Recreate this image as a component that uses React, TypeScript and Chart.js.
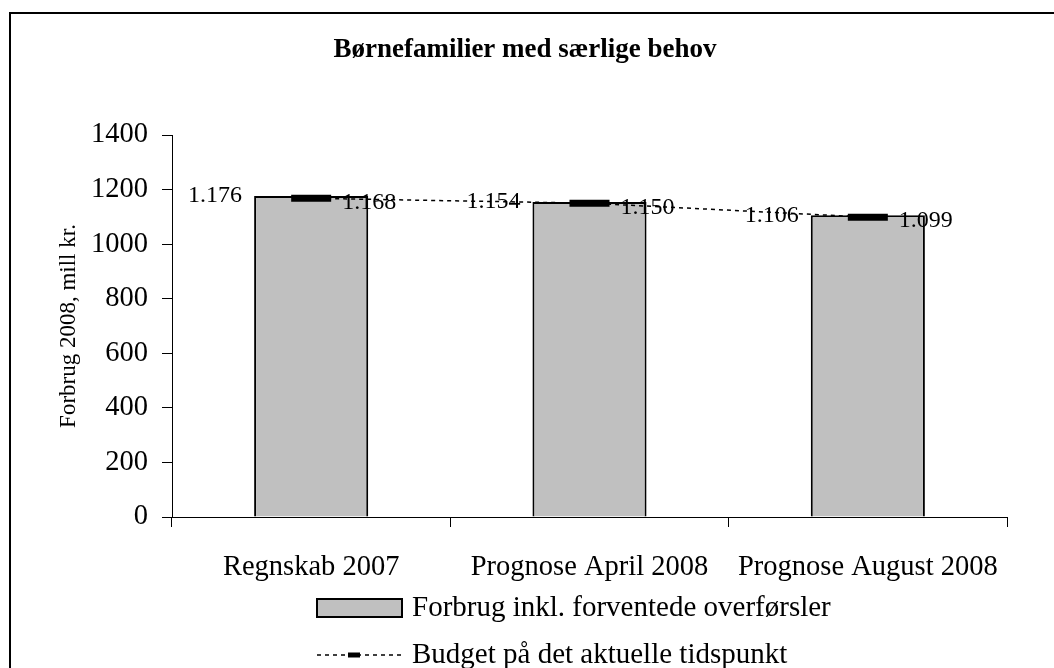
import React, { useEffect, useRef } from "react";
import { Chart, registerables } from "chart.js";

Chart.register(...registerables);

const chartTitle = "Børnefamilier med særlige behov";
const yAxisTitle = "Forbrug 2008, mill kr.";
const categories = ["Regnskab 2007", "Prognose April 2008", "Prognose August 2008"];
const forbrugValues = [1176, 1154, 1106];
const budgetValues = [1168, 1150, 1099];
const seriesNames = ["Forbrug inkl. forventede overførsler", "Budget på det aktuelle tidspunkt"];
const yMin = 0;
const yMax = 1400;
const yStep = 200;

const FONT = '"Liberation Serif", "Times New Roman", serif';
const BAR_FILL = "#C0C0C0";

const fmt = (v: number) => {
  const t = Math.floor(v / 1000);
  const r = String(Math.round(v % 1000)).padStart(3, "0");
  return t > 0 ? `${t}.${r}` : String(v);
};

const framePlugin = {
  id: "frame",
  beforeDraw(chart: any) {
    const ctx = chart.ctx;
    ctx.save();
    ctx.fillStyle = "#ffffff";
    ctx.fillRect(0, 0, chart.width, chart.height);
    ctx.fillStyle = "#000000";
    ctx.fillRect(9, 12, 2, chart.height - 12);
    ctx.fillRect(9, 12, chart.width - 9, 2);
    ctx.restore();
  },
};

const titlePlugin = {
  id: "customTitle",
  afterDraw(chart: any) {
    const ctx = chart.ctx;
    ctx.save();
    ctx.font = `bold 27px ${FONT}`;
    ctx.fillStyle = "#000";
    ctx.textAlign = "center";
    ctx.textBaseline = "middle";
    ctx.fillText(chartTitle, 525, 50);
    ctx.restore();
  },
};

const labelPlugin = {
  id: "valueLabels",
  afterDatasetsDraw(chart: any) {
    const ctx = chart.ctx;
    ctx.save();
    ctx.font = `24px ${FONT}`;
    ctx.fillStyle = "#000";
    ctx.textBaseline = "middle";
    const barMeta = chart.getDatasetMeta(1);
    barMeta.data.forEach((el: any, i: number) => {
      ctx.textAlign = "right";
      ctx.fillText(fmt(forbrugValues[i]), el.x - el.width / 2 - 12, el.y);
    });
    const lineMeta = chart.getDatasetMeta(0);
    lineMeta.data.forEach((el: any, i: number) => {
      ctx.textAlign = "left";
      ctx.fillText(fmt(budgetValues[i]), el.x + 20 + 11, el.y + 4);
    });
    ctx.restore();
  },
};

const legendPlugin = {
  id: "customLegend",
  afterDraw(chart: any) {
    const ctx = chart.ctx;
    const x0 = chart.chartArea.left + 145;
    const y1 = 608;
    const y2 = 655;
    ctx.save();
    ctx.fillStyle = BAR_FILL;
    ctx.fillRect(x0, y1 - 9, 85, 18);
    ctx.strokeStyle = "#000";
    ctx.lineWidth = 2;
    ctx.strokeRect(x0, y1 - 9, 85, 18);
    ctx.setLineDash([4, 4]);
    ctx.lineWidth = 1.5;
    ctx.beginPath();
    ctx.moveTo(x0, y2);
    ctx.lineTo(x0 + 85, y2);
    ctx.stroke();
    ctx.setLineDash([]);
    ctx.lineWidth = 5;
    ctx.beginPath();
    ctx.moveTo(x0 + 31, y2);
    ctx.lineTo(x0 + 43, y2);
    ctx.stroke();
    ctx.font = `29px ${FONT}`;
    ctx.fillStyle = "#000";
    ctx.textAlign = "left";
    ctx.textBaseline = "middle";
    ctx.fillText(seriesNames[0], x0 + 95, y1);
    ctx.fillText(seriesNames[1], x0 + 95, y2);
    ctx.restore();
  },
};

export default function App() {
  const ref = useRef<HTMLCanvasElement | null>(null);
  useEffect(() => {
    if (!ref.current) return;
    const chart = new Chart(ref.current, {
      type: "bar",
      data: {
        labels: categories,
        datasets: [
          {
            type: "line",
            label: seriesNames[1],
            data: budgetValues,
            borderColor: "#000",
            borderWidth: 1.5,
            borderDash: [4, 4],
            pointStyle: "line",
            pointRadius: 20,
            pointBorderWidth: 7,
            pointBorderColor: "#000",
            pointBackgroundColor: "#000",
            order: 0,
          } as any,
          {
            type: "bar",
            label: seriesNames[0],
            data: forbrugValues,
            backgroundColor: BAR_FILL,
            borderColor: "#000",
            borderWidth: 2,
            barPercentage: 0.41,
            categoryPercentage: 1,
            order: 1,
          },
        ],
      },
      options: {
        animation: false,
        responsive: false,
        maintainAspectRatio: false,
        layout: { padding: { left: 0, right: 47, top: 135, bottom: 0 } },
        plugins: {
          legend: { display: false },
          title: { display: false },
          tooltip: { enabled: false },
        },
        scales: {
          x: {
            offset: true,
            grid: {
              offset: true,
              drawOnChartArea: false,
              drawTicks: true,
              tickLength: 10,
              color: "#000",
              lineWidth: 1,
            },
            border: { display: true, color: "#000", width: 1 },
            ticks: {
              color: "#000",
              font: { family: FONT, size: 28.5 },
              padding: 23,
              maxRotation: 0,
            },
            afterFit(scale: any) {
              scale.height = 151;
            },
          },
          y: {
            min: yMin,
            max: yMax,
            grid: {
              drawOnChartArea: false,
              drawTicks: true,
              tickLength: 10,
              color: "#000",
              lineWidth: 1,
            },
            border: { display: true, color: "#000", width: 1 },
            ticks: {
              stepSize: yStep,
              color: "#000",
              font: { family: FONT, size: 28.5 },
              padding: 14,
              callback: (v: any) => String(v),
            },
            title: {
              display: true,
              text: yAxisTitle,
              color: "#000",
              font: { family: FONT, size: 23 },
              padding: { top: 55, bottom: 0 },
            },
            afterFit(scale: any) {
              scale.width = 172;
            },
          },
        },
      },
      plugins: [framePlugin, titlePlugin, labelPlugin, legendPlugin],
    });
    return () => chart.destroy();
  }, []);
  return (
    <canvas
      ref={ref}
      width={1054}
      height={668}
      style={{ position: "fixed", left: 0, top: 0, width: 1054, height: 668 }}
    />
  );
}
